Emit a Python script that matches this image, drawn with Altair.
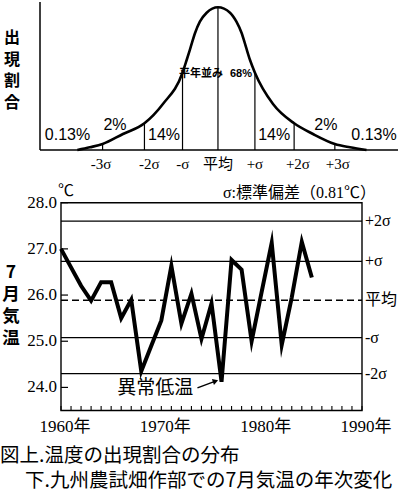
import altair as alt
import pandas as pd

# ---------------- top diagram: distribution ----------------
# x in sigma units (mean = 0), h = curve height (arbitrary units)
curve_s = [-3.73, -3.40, -3.06, -2.52, -1.95, -1.46, -0.94, -0.83, -0.72, -0.61, -0.48, -0.30, 0.0,
           0.32, 0.49, 0.63, 0.74, 0.85, 0.98, 1.46, 2.02, 2.52, 3.10, 3.50, 3.94]
curve_h = [0.0, 2.7, 6.0, 16.0, 26.7, 46.0, 77.3, 90.0, 103.3, 116.7, 128.3, 137.3, 142.7,
           137.3, 128.3, 116.7, 103.3, 90.0, 77.3, 46.0, 26.7, 16.0, 6.0, 2.7, 0.0]
line_s = [-3.06, -1.95, -0.94, 0.0, 0.98, 2.02, 3.10]
line_h = [6.0, 26.7, 77.3, 142.7, 77.3, 26.7, 6.0]
pct_text = ["0.13%", "2%", "14%", "14%", "2%", "0.13%"]
pct_s = [-3.99, -2.73, -1.43, 1.49, 2.86, 4.14]
pct_h = [15, 25, 15, 15, 25, 15]
mid_text = ["平年並み", "68%"]
mid_s = [-0.45, 0.61]
mid_h = [76, 76]
sig_text = ["-3σ", "-2σ", "-σ", "平均", "+σ", "+2σ", "+3σ"]
sig_s = [-3.10, -1.82, -0.93, 0.0, 0.98, 2.12, 3.18]
sig_h = [-14] * 7
top_s_range = [-4.72, 4.775]
top_h_range = [0, 148]
top_title_chars = ["出", "現", "割", "合"]

# ---------------- bottom chart: July temperature ----------------
years = list(range(1960, 1986))
temps = [27.0, 26.6, 26.2, 25.88, 26.28, 26.28, 25.5, 25.9, 24.35, 24.9, 25.45, 26.63, 25.38,
         26.03, 25.05, 25.82, 24.12, 26.76, 26.55, 25.0, 26.07, 27.13, 24.92, 25.95, 27.15, 26.38]
level_vals = [27.6, 26.73, 25.08, 24.3]
level_text = ["+2σ", "+σ", "-σ", "-2σ"]
mean_val = 25.89
mean_text = "平均"
y_ticks = [24.0, 25.0, 26.0, 27.0, 28.0]
y_tick_text = ["24.0", "25.0", "26.0", "27.0", "28.0"]
x_label_years = [1960, 1970, 1980, 1990]
x_minor_years = list(range(1960, 1991))
x_range = [1960, 1990]
t_range = [23.5, 28.0]
anno_text = "異常低温"
anno_year, anno_temp = 1969.4, 23.98
arrow_from = (1973.6, 23.99)
arrow_to = (1975.2, 24.12)
arrow_head = (1975.4, 24.135)
bottom_title_chars = ["7", "月", "気", "温"]
caption_1 = "図上.温度の出現割合の分布"
caption_2 = "下.九州農試畑作部での7月気温の年次変化"

# ---------------- scales ----------------
TX = alt.Scale(domain=top_s_range, range=[40, 398], nice=False, zero=False)
TY = alt.Scale(domain=top_h_range, range=[150, 2], nice=False, zero=False)
BX = alt.Scale(domain=x_range, range=[61, 362], nice=False, zero=False)
BY = alt.Scale(domain=t_range, range=[410.5, 202.7], nice=False, zero=False)

SERIF = "'Liberation Serif', 'Noto Sans CJK JP'"
SANS = "'Liberation Sans', 'Noto Sans CJK JP'"
CJK = "'Noto Sans CJK JP'"


def tx(f):
    return alt.X(f, type="quantitative", scale=TX, axis=None)


def ty(f):
    return alt.Y(f, type="quantitative", scale=TY, axis=None)


def bx(f):
    return alt.X(f, type="quantitative", scale=BX, axis=None)


def by(f):
    return alt.Y(f, type="quantitative", scale=BY, axis=None)


layers = []

# ---- top diagram ----
axes_df = pd.DataFrame({"s": [top_s_range[0], top_s_range[0]], "s2": [top_s_range[1], top_s_range[0]],
                        "h": [0, 0], "h2": [0, top_h_range[1]]})
layers.append(alt.Chart(axes_df).mark_rule(color="black", strokeWidth=1.5).encode(
    x=tx("s"), x2="s2", y=ty("h"), y2="h2"))

vl_df = pd.DataFrame({"s": line_s, "h0": [0] * len(line_s), "h": line_h})
layers.append(alt.Chart(vl_df).mark_rule(color="black", strokeWidth=1.2).encode(
    x=tx("s"), y=ty("h0"), y2="h"))

curve_df = pd.DataFrame({"s": curve_s, "h": curve_h})
layers.append(alt.Chart(curve_df).mark_line(color="black", strokeWidth=2.6, interpolate="monotone").encode(
    x=tx("s"), y=ty("h")))

pct_df = pd.DataFrame({"s": pct_s, "h": pct_h, "t": pct_text})
layers.append(alt.Chart(pct_df).mark_text(font=SANS, fontSize=16, color="black", baseline="middle").encode(
    x=tx("s"), y=ty("h"), text="t:N"))

mid_df = pd.DataFrame({"s": mid_s, "h": mid_h, "t": mid_text})
layers.append(alt.Chart(mid_df).mark_text(font=SANS, fontSize=11, fontWeight="bold", color="black",
                                          baseline="middle").encode(
    x=tx("s"), y=ty("h"), text="t:N"))

sig_df = pd.DataFrame({"s": sig_s, "h": sig_h, "t": sig_text})
layers.append(alt.Chart(sig_df).mark_text(font=SERIF, fontSize=15, color="black", baseline="middle").encode(
    x=tx("s"), y=ty("h"), text="t:N"))

# ---- bottom chart ----
frame_df = pd.DataFrame({"x": [x_range[0]], "x2": [x_range[1]], "y": [t_range[0]], "y2": [t_range[1]]})
layers.append(alt.Chart(frame_df).mark_rect(fillOpacity=0, stroke="black", strokeWidth=1.4).encode(
    x=bx("x"), x2="x2", y=by("y"), y2="y2"))

lev_df = pd.DataFrame({"y": level_vals, "x": [x_range[0]] * 4, "x2": [x_range[1]] * 4, "t": level_text})
layers.append(alt.Chart(lev_df).mark_rule(color="black", strokeWidth=1.2).encode(
    x=bx("x"), x2="x2", y=by("y")))

mean_df = pd.DataFrame({"y": [mean_val], "x": [x_range[0]], "x2": [x_range[1]], "t": [mean_text]})
layers.append(alt.Chart(mean_df).mark_rule(color="black", strokeWidth=1.5, strokeDash=[7, 4]).encode(
    x=bx("x"), x2="x2", y=by("y")))

ytick_df = pd.DataFrame({"y": y_ticks, "x": [x_range[0]] * len(y_ticks), "x2": [x_range[0] + 0.7] * len(y_ticks),
                         "t": y_tick_text})
layers.append(alt.Chart(ytick_df).mark_rule(color="black", strokeWidth=1.2).encode(
    x=bx("x"), x2="x2", y=by("y")))
layers.append(alt.Chart(ytick_df).mark_text(font=SERIF, fontSize=17, align="right", baseline="middle",
                                            dx=-4, color="black").encode(
    x=bx("x"), y=by("y"), text="t:N"))

xtick_df = pd.DataFrame({"x": x_minor_years, "y": [t_range[0]] * len(x_minor_years),
                         "y2": [t_range[0] + 0.1] * len(x_minor_years)})
layers.append(alt.Chart(xtick_df).mark_rule(color="black", strokeWidth=1.1).encode(
    x=bx("x"), y=by("y"), y2="y2"))

xlab_df = pd.DataFrame({"x": x_label_years, "y": [t_range[0]] * 4,
                        "t": [f"{v}年" for v in x_label_years]})
layers.append(alt.Chart(xlab_df).mark_text(font=SERIF, fontSize=17, baseline="middle", dy=16, dx=4,
                                           color="black").encode(
    x=bx("x"), y=by("y"), text="t:N"))

right_df = pd.DataFrame({"y": level_vals + [mean_val], "x": [x_range[1]] * 5, "t": level_text + [mean_text]})
layers.append(alt.Chart(right_df).mark_text(font=SERIF, fontSize=16, align="left", baseline="middle", dx=3,
                                            color="black").encode(
    x=bx("x"), y=by("y"), text="t:N"))

temp_df = pd.DataFrame({"year": years, "temp": temps})
layers.append(alt.Chart(temp_df).mark_line(color="black", strokeWidth=4, strokeJoin="miter",
                                           strokeMiterLimit=8).encode(
    x=bx("year"), y=by("temp")))

unit_df = pd.DataFrame({"x": [x_range[0]], "y": [t_range[1]], "t": ["℃"]})
layers.append(alt.Chart(unit_df).mark_text(font=SERIF, fontSize=16, align="left", baseline="middle",
                                           dy=-12, dx=-3, color="black").encode(
    x=bx("x"), y=by("y"), text="t:N"))

sd_df = pd.DataFrame({"x": [x_range[1]], "y": [t_range[1]], "t": ["σ:標準偏差（0.81℃）"]})
layers.append(alt.Chart(sd_df).mark_text(font=SERIF, fontSize=16, align="right", baseline="middle",
                                         dy=-10, dx=14, color="black").encode(
    x=bx("x"), y=by("y"), text="t:N"))

anno_df = pd.DataFrame({"x": [anno_year], "y": [anno_temp], "t": [anno_text]})
layers.append(alt.Chart(anno_df).mark_text(font=CJK, fontSize=19, baseline="middle", color="black").encode(
    x=bx("x"), y=by("y"), text="t:N"))

arrow_df = pd.DataFrame({"x": [arrow_from[0]], "x2": [arrow_to[0]], "y": [arrow_from[1]], "y2": [arrow_to[1]]})
layers.append(alt.Chart(arrow_df).mark_rule(color="black", strokeWidth=1.5).encode(
    x=bx("x"), x2="x2", y=by("y"), y2="y2"))
head_df = pd.DataFrame({"x": [arrow_head[0]], "y": [arrow_head[1]]})
layers.append(alt.Chart(head_df).mark_point(shape="triangle-right", filled=True, size=40, angle=341,
                                            color="black", opacity=1).encode(
    x=bx("x"), y=by("y")))

# ---- free text: vertical axis titles (one character per line) & caption ----
for i, ch in enumerate(top_title_chars):
    layers.append(alt.Chart(pd.DataFrame({"t": [ch]})).mark_text(
        font=CJK, fontSize=16, fontWeight="bold", baseline="middle", color="black").encode(
        x=alt.value(12), y=alt.value(38 + 21.5 * i), text="t:N"))
for i, ch in enumerate(bottom_title_chars):
    layers.append(alt.Chart(pd.DataFrame({"t": [ch]})).mark_text(
        font=CJK, fontSize=17.5, fontWeight="bold", baseline="middle", color="black").encode(
        x=alt.value(11), y=alt.value(273 + 22 * i), text="t:N"))
layers.append(alt.Chart(pd.DataFrame({"t": [caption_1]})).mark_text(
    font=CJK, fontSize=19.5, align="left", baseline="middle", color="black").encode(
    x=alt.value(0), y=alt.value(456), text="t:N"))
layers.append(alt.Chart(pd.DataFrame({"t": [caption_2]})).mark_text(
    font=CJK, fontSize=19.5, align="left", baseline="middle", color="black").encode(
    x=alt.value(25), y=alt.value(481), text="t:N"))

chart = alt.layer(*layers).resolve_scale(x="independent", y="independent").properties(
    width=398, height=492, padding=0, autosize=alt.AutoSizeParams(type="none"),
    background="white"
).configure_view(stroke=None)

chart.save("out.html", embed_options={"renderer": "svg", "actions": False})
